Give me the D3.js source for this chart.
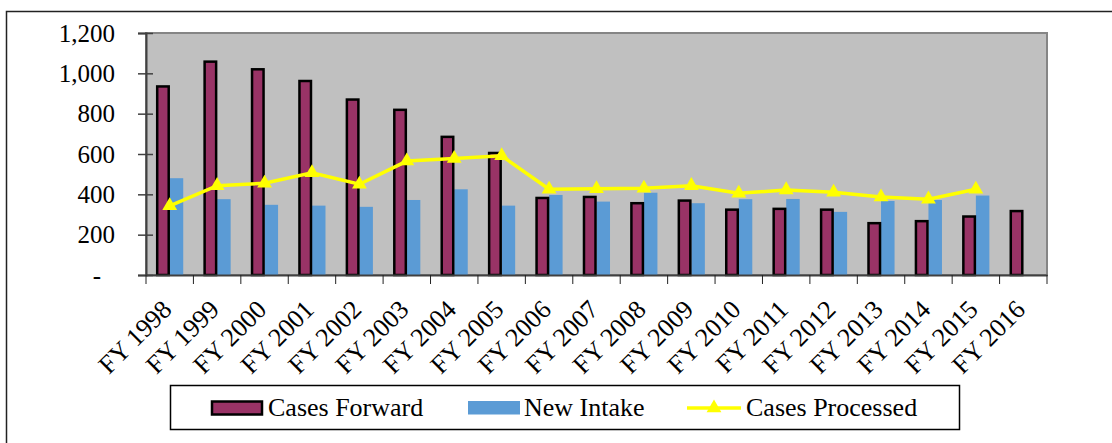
<!DOCTYPE html>
<html>
<head>
<meta charset="utf-8">
<script src="https://cdn.jsdelivr.net/npm/d3@7"></script>
<style>
  body { margin: 0; background: #fff; }
  svg { display: block; font-family: "Liberation Serif", "Times New Roman", serif; }
</style>
</head>
<body>
<script>
var years = ['FY 1998', 'FY 1999', 'FY 2000', 'FY 2001', 'FY 2002', 'FY 2003', 'FY 2004',
    'FY 2005', 'FY 2006', 'FY 2007', 'FY 2008', 'FY 2009', 'FY 2010', 'FY 2011',
    'FY 2012', 'FY 2013', 'FY 2014', 'FY 2015', 'FY 2016'];
var casesForward = [935, 1058, 1020, 962, 870, 819, 685, 605, 382, 387, 356, 369, 324, 328, 324, 257, 267, 290, 317];
var newIntake = [480, 376, 348, 344, 338, 372, 425, 344, 397, 364, 408, 356, 376, 377, 313, 367, 372, 394, null];
var casesProcessed = [343, 443, 455, 507, 450, 565, 578, 591, 425, 428, 430, 443, 405, 422, 410, 387, 376, 425, null];
var yTicks = [0, 200, 400, 600, 800, 1000, 1200];

var width = 1112,
    height = 443;

var plot = {left: 146, right: 1047, top: 33, bottom: 275};

var svg = d3.select('body').append('svg')
    .attr('width', width)
    .attr('height', height);

// outer chart border (runs off right/bottom like the original)
svg.append('rect')
    .attr('x', 6.5).attr('y', 11.5)
    .attr('width', 1130).attr('height', 460)
    .attr('fill', 'none')
    .attr('stroke', '#222')
    .attr('stroke-width', 1.5);

var x = d3.scaleBand()
    .domain(years)
    .range([plot.left, plot.right])
    .padding(0);

var y = d3.scaleLinear()
    .domain([0, 1200])
    .range([plot.bottom, plot.top]);

var barW = x.bandwidth() * 0.285;

// plot background
svg.append('rect')
    .attr('x', plot.left).attr('y', plot.top)
    .attr('width', plot.right - plot.left).attr('height', plot.bottom - plot.top)
    .attr('fill', '#c0c0c0')
    .attr('stroke', '#858585')
    .attr('stroke-width', 2);

// new intake bars
svg.append('g').selectAll('rect')
    .data(years.map(function (d, i) { return {year: d, v: newIntake[i]}; }).filter(function (d) { return d.v != null; }))
    .enter().append('rect')
    .attr('x', function (d) { return x(d.year) + x.bandwidth() / 2; })
    .attr('y', function (d) { return y(d.v); })
    .attr('width', barW)
    .attr('height', function (d) { return y(0) - y(d.v); })
    .attr('fill', '#5b9bd5');

// cases forward bars
svg.append('g').selectAll('rect')
    .data(years.map(function (d, i) { return {year: d, v: casesForward[i]}; }))
    .enter().append('rect')
    .attr('x', function (d) { return x(d.year) + x.bandwidth() / 2 - barW + 1; })
    .attr('y', function (d) { return y(d.v); })
    .attr('width', barW - 2)
    .attr('height', function (d) { return y(0) - y(d.v); })
    .attr('fill', '#993366')
    .attr('stroke', '#000')
    .attr('stroke-width', 2.5);

// axes
var yAxis = d3.axisLeft(y)
    .tickValues(yTicks)
    .tickSize(8)
    .tickPadding(23)
    .tickFormat(function (d) { return d === 0 ? '-' : d3.format(',')(d); });

var gy = svg.append('g')
    .attr('transform', 'translate(' + plot.left + ',0)')
    .call(yAxis);
gy.select('.domain').attr('stroke', '#404040').attr('stroke-width', 2);
gy.selectAll('.tick line').attr('stroke', '#404040').attr('stroke-width', 1.5).attr('x2', 7).attr('x1', -8);
gy.selectAll('.tick text')
    .attr('font-size', 25)
    .attr('font-family', '"Liberation Serif", serif')
    .attr('fill', '#000')
    .attr('dy', '0.33em')
    .attr('dx', function (d) { return d === 0 ? -14 : 0; });

var xAxis = d3.axisBottom(x)
    .tickSize(0)
    .tickFormat('');

var gx = svg.append('g')
    .attr('transform', 'translate(0,' + plot.bottom + ')')
    .call(xAxis);
gx.select('.domain').attr('stroke', '#404040').attr('stroke-width', 2);

// band boundary ticks
gx.selectAll('line.bnd')
    .data(years.concat(['end']))
    .enter().append('line')
    .attr('class', 'bnd')
    .attr('x1', function (d, i) { return plot.left + i * x.step(); })
    .attr('x2', function (d, i) { return plot.left + i * x.step(); })
    .attr('y1', 0).attr('y2', 9)
    .attr('stroke', '#222').attr('stroke-width', 1);

// rotated category labels
svg.append('g').selectAll('text')
    .data(years)
    .enter().append('text')
    .attr('transform', function (d) {
        return 'translate(' + (x(d) + x.bandwidth() / 2 + 3.5) + ',' + 311 + ') rotate(-45)';
    })
    .attr('text-anchor', 'end')
    .attr('font-size', 26)
    .attr('fill', '#000')
    .text(function (d) { return d; });

// cases processed line
var pts = years.map(function (d, i) { return {year: d, v: casesProcessed[i]}; })
    .filter(function (d) { return d.v != null; });

var line = d3.line()
    .x(function (d) { return x(d.year) + x.bandwidth() / 2; })
    .y(function (d) { return y(d.v); });

svg.append('path')
    .datum(pts)
    .attr('d', line)
    .attr('fill', 'none')
    .attr('stroke', '#ffff00')
    .attr('stroke-width', 3.5);

var tri = d3.symbol().type(d3.symbolTriangle).size(95);

svg.append('g').selectAll('path')
    .data(pts)
    .enter().append('path')
    .attr('d', tri)
    .attr('transform', function (d) {
        return 'translate(' + (x(d.year) + x.bandwidth() / 2) + ',' + y(d.v) + ')';
    })
    .attr('fill', '#ffff00');

// legend
var lg = svg.append('g');
lg.append('rect')
    .attr('x', 170.5).attr('y', 385.5)
    .attr('width', 789).attr('height', 44)
    .attr('fill', '#fff')
    .attr('stroke', '#000')
    .attr('stroke-width', 1.5);

lg.append('rect')
    .attr('x', 212).attr('y', 401.5)
    .attr('width', 50).attr('height', 13)
    .attr('fill', '#993366').attr('stroke', '#000').attr('stroke-width', 2.5);
lg.append('text').attr('x', 268).attr('y', 416).attr('font-size', 26).text('Cases Forward');

lg.append('rect')
    .attr('x', 468).attr('y', 401)
    .attr('width', 52).attr('height', 13.5)
    .attr('fill', '#5b9bd5');
lg.append('text').attr('x', 524).attr('y', 416).attr('font-size', 26).text('New Intake');

lg.append('line')
    .attr('x1', 687).attr('x2', 741).attr('y1', 408).attr('y2', 408)
    .attr('stroke', '#ffff00').attr('stroke-width', 3.5);
lg.append('path')
    .attr('d', tri)
    .attr('transform', 'translate(714,408)')
    .attr('fill', '#ffff00');
lg.append('text').attr('x', 746).attr('y', 416).attr('font-size', 26).text('Cases Processed');
</script>
</body>
</html>
